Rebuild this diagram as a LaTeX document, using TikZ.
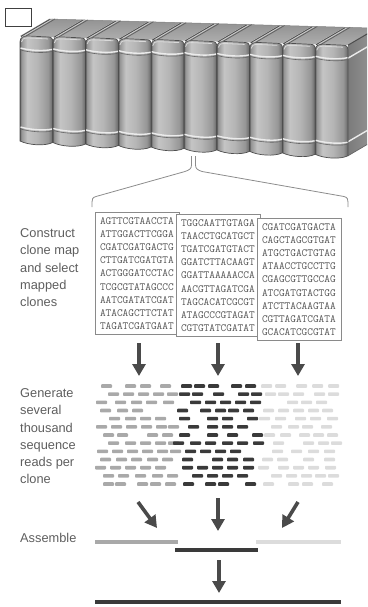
\documentclass[tikz,border=0pt]{standalone}
\usepackage{fontspec}
\setmainfont{Liberation Sans}
\usetikzlibrary{arrows.meta}

\definecolor{labelgray}{HTML}{5E5E5E}
\definecolor{seqgray}{HTML}{555555}
\definecolor{boxline}{HTML}{8A8A8A}
\definecolor{arrowgray}{HTML}{4A4A4A}
\definecolor{bracketgray}{HTML}{8C8C8C}
\definecolor{readA}{HTML}{A9A9A9}
\definecolor{readB}{HTML}{3A3A3A}
\definecolor{readC}{HTML}{DCDCDC}
\definecolor{spineline}{HTML}{4F4F4F}

% cylindrical spine shading (path bbox spans 25bp..75bp)
\pgfdeclarehorizontalshading{spineshade}{100bp}{%
  rgb(0bp)=(0.36,0.36,0.36); rgb(25bp)=(0.36,0.36,0.36);
  rgb(27bp)=(0.58,0.58,0.58); rgb(36bp)=(0.77,0.77,0.77);
  rgb(52bp)=(0.71,0.71,0.71); rgb(68bp)=(0.59,0.59,0.59);
  rgb(75bp)=(0.40,0.40,0.40); rgb(100bp)=(0.40,0.40,0.40)}

\begin{document}
\begin{tikzpicture}[x=1pt,y=-1pt,
  labeltext/.style={anchor=north west, inner sep=0pt, align=left, text=labelgray,
    font=\fontsize{12.8}{17.3}\selectfont},
  seqbox/.style={draw=boxline, line width=1.1pt, fill=white, anchor=north west,
    text width=75pt, inner xsep=4.5pt, minimum height=122pt, align=left,
    text=seqgray, font=\ttfamily\fontsize{11}{13.15}\selectfont},
  flow/.style={draw=arrowgray, line width=3.6pt, -{Triangle[width=13pt,length=12pt]}},
  read/.style={rounded corners=0.8pt},
  contig/.style={line width=4pt},
  bracket/.style={draw=bracketgray, line width=0.8pt},
  bandlight/.style={draw=white!92!black, line width=1.4pt},
  banddark/.style={draw=black!60, line width=0.6pt},
]
\useasboundingbox (0,0) rectangle (367,607);
\clip (0,0) rectangle (367,607);

% small empty panel box
\node[draw=black!75, line width=0.9pt, minimum width=26pt, minimum height=18pt,
      inner sep=0pt, anchor=north west] (panel) at (4.5,8.5) {};

% ---------- shelf of books ----------
% top faces
\foreach \i in {0,...,9}{
  \pgfmathsetmacro\xl{20+32.8*\i}
  \pgfmathsetmacro\xr{\xl+32.8}
  \pgfmathsetmacro\ytl{36+0.028*(\xl-20)}
  \pgfmathsetmacro\ytr{36+0.028*(\xr-20)}
  \shade[top color=black!42, bottom color=black!32]
    (\xl,\ytl) -- (\xl+29,\ytl-17) -- (\xr+29,\ytr-17) -- (\xr,\ytr) -- cycle;
  \draw[black!70, line width=1pt] (\xl+1,\ytl+0.5) -- (\xl+30,\ytl-16.5);
  \draw[white!80!black, line width=0.8pt] (\xl+3.5,\ytl) -- (\xl+32.5,\ytl-17);
  \draw[black!62, line width=0.8pt] (\xl+6,\ytl) -- (\xl+35,\ytl-17);
  \draw[black!50, line width=0.5pt] (\xl+29,\ytl-17) -- (\xr+29,\ytr-17);
}
% right side of the last book
\pgfmathsetmacro\ytz{36+0.028*328}
\pgfmathsetmacro\ybz{141+0.045*328}
\shade[left color=black!52, right color=black!40]
  (348,\ytz) -- (377,\ytz-17) -- (377,\ybz-17) -- (348,\ybz) -- cycle;
\draw[bandlight] (348,\ytz+13) -- (377,\ytz-4);
\draw[bandlight] (348,\ybz-14) -- (377,\ybz-31);
\draw[black!70, line width=1pt] (348,\ytz) -- (377,\ytz-17);
\draw[black!60, line width=0.7pt] (348,\ybz) -- (377,\ybz-17);

% spines
\foreach \i in {0,...,9}{
  \pgfmathsetmacro\xl{20+32.8*\i}
  \pgfmathsetmacro\xr{\xl+32.8}
  \pgfmathsetmacro\ytl{36+0.028*(\xl-20)}
  \pgfmathsetmacro\ytr{36+0.028*(\xr-20)}
  \pgfmathsetmacro\ybl{141+0.045*(\xl-20)}
  \pgfmathsetmacro\ybr{141+0.045*(\xr-20)}
  \shade[shading=spineshade, draw=spineline, line width=0.7pt]
    (\xl,\ybl) -- (\xl,\ytl+6) .. controls (\xl,\ytl+1.5) and (\xl+3,\ytl) .. (\xl+8,\ytl)
    -- (\xr-5,\ytr) .. controls (\xr-1.5,\ytr) and (\xr,\ytr+1.5) .. (\xr,\ytr+5)
    -- (\xr,\ybr) .. controls (\xr-8,\ybr+4) and (\xl+8,\ybl+4) .. (\xl,\ybl) -- cycle;
  % highlight along the head of the spine
  \draw[white!85!black, line width=0.8pt]
    (\xl+1.5,\ytl+6) .. controls (\xl+1.5,\ytl+3) and (\xl+4,\ytl+2) .. (\xl+8,\ytl+2) -- (\xr-5,\ytr+2);
  % upper band
  \draw[bandlight] (\xl+0.5,\ytl+12) .. controls (\xl+9,\ytl+14.5) and (\xr-9,\ytr+14.5) .. (\xr-0.5,\ytr+12.5);
  \draw[banddark] (\xl+0.5,\ytl+14) .. controls (\xl+9,\ytl+16.5) and (\xr-9,\ytr+16.5) .. (\xr-0.5,\ytr+14.5);
  % lower band
  \draw[bandlight] (\xl+0.5,\ybl-14) .. controls (\xl+9,\ybl-11.5) and (\xr-9,\ybr-11.5) .. (\xr-0.5,\ybr-13.5);
  \draw[banddark] (\xl+0.5,\ybl-12) .. controls (\xl+9,\ybl-9.5) and (\xr-9,\ybr-9.5) .. (\xr-0.5,\ybr-11.5);
}

% ---------- bracket from the shelf to the clones ----------
\coordinate (brL) at (191.5,156);
\coordinate (brR) at (195.5,156);
\coordinate (brLend) at (92,207);
\coordinate (brRend) at (348,207);
\draw[bracket] (brL) -- (191.5,165) .. controls (191.5,169) and (189,170) .. (185,171.5)
  -- (96,196.5) .. controls (92.5,197.5) and (92,199) .. (92,202) -- (brLend);
\draw[bracket] (brR) -- (195.5,165) .. controls (195.5,169) and (198,170) .. (202,171.5)
  -- (344,196.5) .. controls (347.5,197.5) and (348,199) .. (348,202) -- (brRend);

% ---------- clone sequences ----------
\node[seqbox] (clone1) at (95,212) {AGTTCGTAACCTA\\ATTGGACTTCGGA\\CGATCGATGACTG\\CTTGATCGATGTA\\ACTGGGATCCTAC\\TCGCGTATAGCCC\\AATCGATATCGAT\\ATACAGCTTCTAT\\TAGATCGATGAAT};
\node[seqbox] (clone2) at (176,214) {TGGCAATTGTAGA\\TAACCTGCATGCT\\TGATCGATGTACT\\GGATCTTACAAGT\\GGATTAAAAACCA\\AACGTTAGATCGA\\TAGCACATCGCGT\\ATAGCCCGTAGAT\\CGTGTATCGATAT};
\node[seqbox] (clone3) at (257,218) {CGATCGATGACTA\\CAGCTAGCGTGAT\\ATGCTGACTGTAG\\ATAACCTGCCTTG\\CGAGCGTTGCCAG\\ATCGATGTACTGG\\ATCTTACAAGTAA\\CGTTAGATCGATA\\GCACATCGCGTAT};

% ---------- step labels ----------
\node[labeltext] (step1) at (20,228.3) {Construct\\clone map\\and select\\mapped\\clones};
\node[labeltext] (step2) at (20,388.3) {Generate\\several\\thousand\\sequence\\reads per\\clone};
\node[labeltext] (step3) at (20,533.3) {Assemble};

% ---------- arrows from clones to reads ----------
\coordinate (c1out) at (139,343); \coordinate (r1in) at (139,376);
\coordinate (c2out) at (218,343); \coordinate (r2in) at (218,376);
\coordinate (c3out) at (298,343); \coordinate (r3in) at (298,376);
\draw[flow] (c1out) -- (r1in);
\draw[flow] (c2out) -- (r2in);
\draw[flow] (c3out) -- (r3in);

% ---------- shotgun reads ----------
\foreach \r/\xs in {0/{101,125,140,160},1/{108,123,138,153,167},2/{96,115,131,146,163},
  3/{100,117,132},4/{109,125,140,155},5/{96,111,126,141,156,168},6/{103,117,147,162},
  7/{108,125,140,155,168},8/{97,112,127,142,157,170},9/{100,116,131,147,162},
  10/{95,110,125,140,155},11/{103,118,135,152,167},12/{103,115,137,150,165}}{
  \foreach \x in \xs {\fill[readA, read] (\x,386+8.17*\r-1.8) rectangle ++(11,3.6);}
}
\foreach \r/\xs in {0/{181,194,208,231,245},1/{179,192,213,238,251},2/{190,205,220,235,250},
  3/{177,200,215,228,243},4/{179,207,222,247},5/{188,207,222,237},6/{179,207,227,252},
  7/{173,190,205,222,237,253},8/{185,200,215,230},9/{182,212,227,243},
  10/{182,197,212,227,243},11/{192,207,222,237},12/{183,205,218,245}}{
  \foreach \x in \xs {\fill[readB, read] (\x,386+8.17*\r-1.8) rectangle ++(11,3.6);}
}
\foreach \r/\xs in {0/{261,275,296,312,328},1/{265,278,293,314,328},2/{287,301,316},
  3/{263,278,293,308,322},4/{259,275,295,310,327},5/{271,288,302,321},6/{264,280,299,313,327},
  7/{273,303,318,331},8/{272,291,308,324},9/{262,277,303,324},
  10/{258,278,293,308,325},11/{271,286,301,315,328},12/{263,288,302,322}}{
  \foreach \x in \xs {\fill[readC, read] (\x,386+8.17*\r-1.8) rectangle ++(11,3.6);}
}

% ---------- assembly ----------
\coordinate (rAout) at (138,502); \coordinate (kAin) at (157,528);
\coordinate (rBout) at (218,498); \coordinate (kBin) at (218,531);
\coordinate (rCout) at (298,502); \coordinate (kCin) at (282,528);
\draw[flow] (rAout) -- (kAin);
\draw[flow] (rBout) -- (kBin);
\draw[flow] (rCout) -- (kCin);

\coordinate (kA1) at (95,542);  \coordinate (kA2) at (178,542);
\coordinate (kB1) at (175,550); \coordinate (kB2) at (258,550);
\coordinate (kC1) at (256,542); \coordinate (kC2) at (341,542);
\draw[contig, readA] (kA1) -- (kA2);
\draw[contig, readB] (kB1) -- (kB2);
\draw[contig, readC] (kC1) -- (kC2);

\coordinate (kBout) at (219,560); \coordinate (finalin) at (219,593);
\draw[flow] (kBout) -- (finalin);
\coordinate (final1) at (95,602); \coordinate (final2) at (341,602);
\draw[contig, readB, line width=4.5pt] (final1) -- (final2);
\end{tikzpicture}
\end{document}
